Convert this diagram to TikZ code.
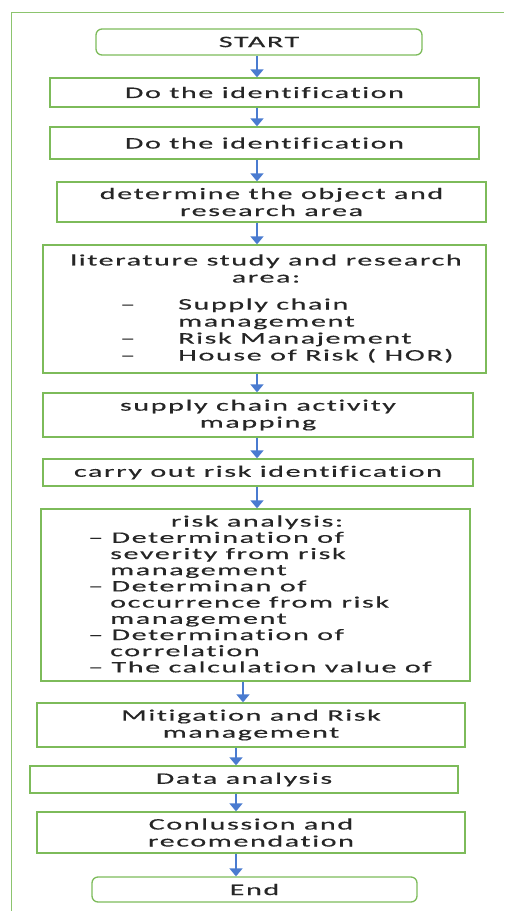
\documentclass[tikz,border=0pt]{standalone}
\usepackage{fontspec}
\setmainfont{Carlito}[FakeStretch=1.88,LetterSpace=10,FakeBold=0.45,Ligatures=CommonOff]
\usetikzlibrary{arrows.meta}
\definecolor{frameg}{HTML}{8CC46E}
\definecolor{boxg}{HTML}{7DBB5A}
\definecolor{arrb}{HTML}{4A7BD0}
\definecolor{txt}{HTML}{262626}
\newcommand{\ind}{\hspace*{22pt}}
\tikzset{
  box/.style={draw=boxg, line width=1.3pt, inner sep=0pt, align=center, text=txt},
  term/.style={box, rounded corners=6pt},
  lbl/.style={inner sep=0pt, text=txt},
  arr/.style={draw=arrb, line width=1.6pt, -{Triangle[width=13pt,length=8pt]}},
}
\begin{document}
\begin{tikzpicture}[x=1pt, y=-1pt, font=\fontsize{16}{17}\selectfont]
\useasboundingbox (0,0) rectangle (504,911);
\draw[frameg, line width=1.5pt] (11.5,911) -- (11.5,12.7) -- (504,12.7);

\coordinate (ax1) at (257,0);
\coordinate (ax2) at (243,0);
\coordinate (ax3) at (236,0);

\node[term, minimum width=326pt, minimum height=26pt] (start) at (259,42) {START};
\node[box, minimum width=429pt, minimum height=29pt] (b2) at (264.5,92.5) {Do the identification};
\node[box, minimum width=429pt, minimum height=32pt] (b3) at (264.5,143) {Do the identification};
\node[box, minimum width=429pt, minimum height=40pt] (b4) at (271.5,202) {determine the object and\\research area};
\node[box, minimum width=443pt, minimum height=128pt] (b5) at (264.5,309) {};
\node[lbl, align=center] (b5t) at (266,268.5) {literature study and research\\area:};
\node[lbl, anchor=base west] (b5l) at (120,309.5) {\begin{tabular}[t]{@{}l@{}}
\makebox[58pt][l]{–}Supply chain\\
\makebox[58pt][l]{}management\\
\makebox[58pt][l]{–}Risk Manajement\\
\makebox[58pt][l]{–}House of Risk ( HOR)
\end{tabular}};
\node[box, minimum width=430pt, minimum height=44pt] (b6) at (258,415) {supply chain activity\\mapping};
\node[box, minimum width=430pt, minimum height=27pt] (b7) at (258,472.5) {carry out risk identification};
\node[box, minimum width=429pt, minimum height=172pt] (b8) at (255.5,595) {};
\node[lbl] (b8t) at (257,522.3) {risk analysis:};
\node[lbl, anchor=base west] (b8l) at (88,542.8) {\fontsize{16}{16.2}\selectfont\begin{tabular}[t]{@{}l@{}}
– Determination of\\
\ind severity from risk\\
\ind management\\
– Determinan of\\
\ind occurrence from risk\\
\ind management\\
– Determination of\\
\ind correlation\\
– The calculation value of
\end{tabular}};
\node[box, minimum width=428pt, minimum height=44pt] (b9) at (251,725) {Mitigation and Risk\\management};
\node[box, minimum width=428pt, minimum height=27pt] (b10) at (244,779.5) {Data analysis};
\node[box, minimum width=428pt, minimum height=41pt] (b11) at (251,832.5) {Conlussion and\\recomendation};
\node[term, minimum width=325pt, minimum height=25pt] (end) at (254.5,889.5) {End};

\draw[arr] (start.south -| ax1) -- (b2.north -| ax1);
\draw[arr] (b2.south -| ax1) -- (b3.north -| ax1);
\draw[arr] (b3.south -| ax1) -- (b4.north -| ax1);
\draw[arr] (b4.south -| ax1) -- (b5.north -| ax1);
\draw[arr] (b5.south -| ax1) -- (b6.north -| ax1);
\draw[arr] (b6.south -| ax1) -- (b7.north -| ax1);
\draw[arr] (b7.south -| ax1) -- (b8.north -| ax1);
\draw[arr] (b8.south -| ax2) -- (b9.north -| ax2);
\draw[arr] (b9.south -| ax3) -- (b10.north -| ax3);
\draw[arr] (b10.south -| ax3) -- (b11.north -| ax3);
\draw[arr] (b11.south -| ax3) -- (end.north -| ax3);
\end{tikzpicture}
\end{document}
